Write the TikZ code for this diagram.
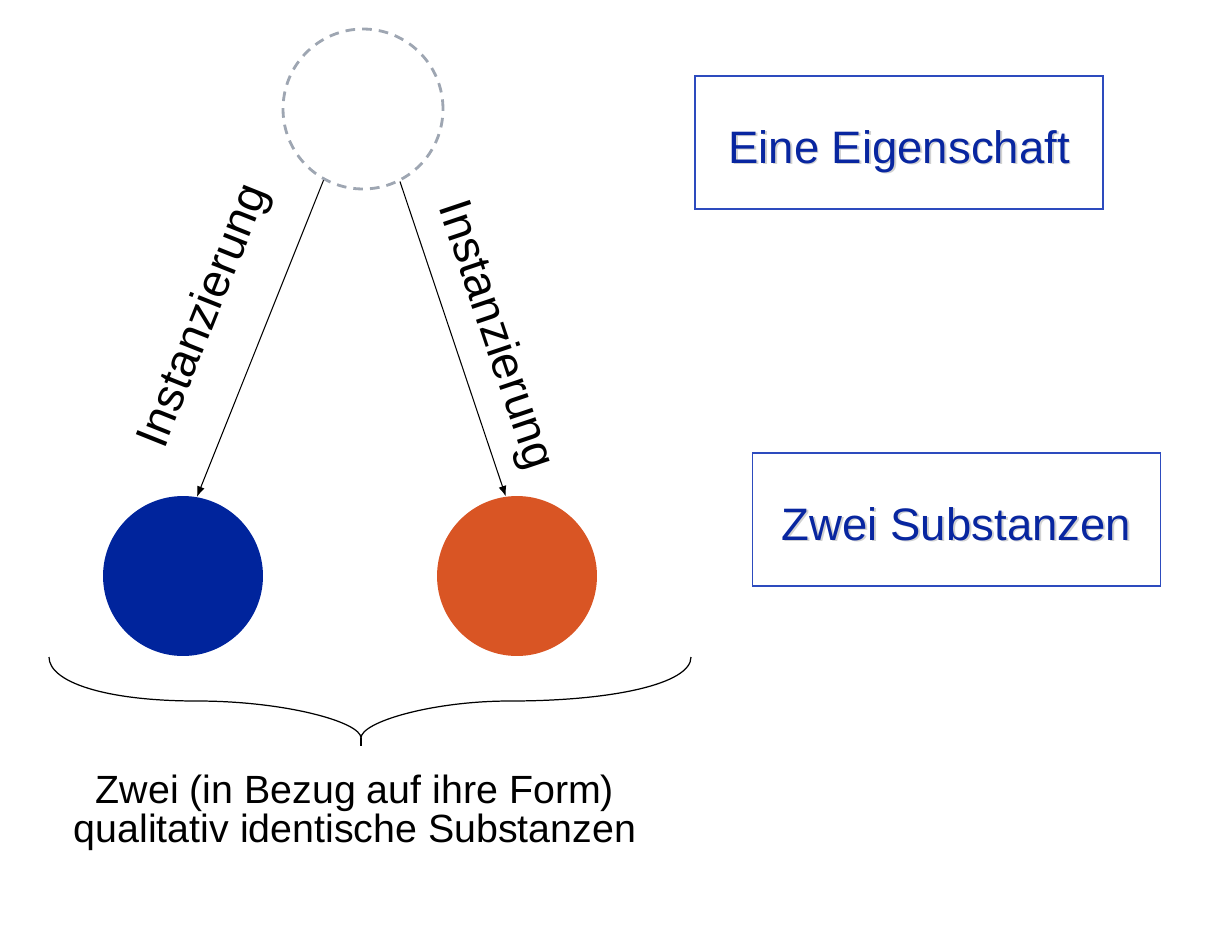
\documentclass[tikz,border=0pt]{standalone}
\usepackage{fontspec}
\setmainfont{Liberation Sans}
\usetikzlibrary{arrows.meta}
\definecolor{subblue}{RGB}{0,36,156}
\definecolor{suborange}{RGB}{217,85,36}
\definecolor{framblue}{RGB}{45,75,190}
\definecolor{textblue}{RGB}{8,38,160}
\definecolor{propgray}{RGB}{158,166,178}
\newcommand{\shadowed}[1]{\makebox[0pt][l]{\hspace{1pt}\raisebox{-1pt}{\textcolor{black!18}{#1}}}#1}

\begin{document}
\begin{tikzpicture}[x=0.02cm,y=-0.02cm,
	substance/.style={circle,minimum size=3.2cm,inner sep=0pt},
	property/.style={circle,minimum size=3.2cm,inner sep=0pt,draw=propgray,line width=1.6pt,dash pattern=on 5.5pt off 4pt},
	inst/.style={-{Latex[length=6pt,width=4.5pt]},line width=0.6pt},
	instlabel/.style={sloped,inner sep=0pt,font=\fontsize{26.5}{30}\selectfont},
	legend/.style={draw=framblue,line width=0.8pt,minimum width=8.16cm,minimum height=2.66cm,inner sep=0pt,text=textblue,text height=23.5pt,text depth=0pt,font=\fontsize{25.9}{30}\selectfont}]
	\useasboundingbox (0,0) rectangle (1216,936);
	% Eigenschaft und die beiden Substanzen
	\node[property] (prop) at (363,109) {};
	\node[substance,fill=subblue] (blue) at (183,576) {};
	\node[substance,fill=suborange] (orange) at (517,576) {};
	% Instanzierung
	\draw[inst] (prop.241.3) -- node[instlabel,above=0.75cm,pos=0.5] (instl) {Instanzierung} (blue.80.8);
	\draw[inst] (prop.297.5) -- node[instlabel,above=0.37cm,pos=0.53] (instr) {Instanzierung} (orange.98.5);
	% Klammer
	\coordinate (bl) at (49,657);
	\coordinate (br) at (691,657);
	\coordinate (tip) at (361,746);
	\draw[line width=0.7pt] (bl) .. controls (49,682) and (105,701) .. (197,701)
		.. controls (285,701) and (361,722) .. (361,738)
		.. controls (361,722) and (432,701) .. (510,701)
		.. controls (612,701) and (691,684) .. (br);
	\draw[line width=0.7pt] (361,738) -- (tip);
	\node[align=center,inner sep=0pt,font=\fontsize{22.4}{18.6}\selectfont] (both) at (355,813)
		{Zwei (in Bezug auf ihre Form)\\qualitativ identische Substanzen};
	% Legende
	\node[legend] (eig) at (899,142.5) {\shadowed{Eine Eigenschaft}};
	\node[legend] (zwei) at (956.5,519.5) {\shadowed{Zwei Substanzen}};
\end{tikzpicture}
\end{document}
